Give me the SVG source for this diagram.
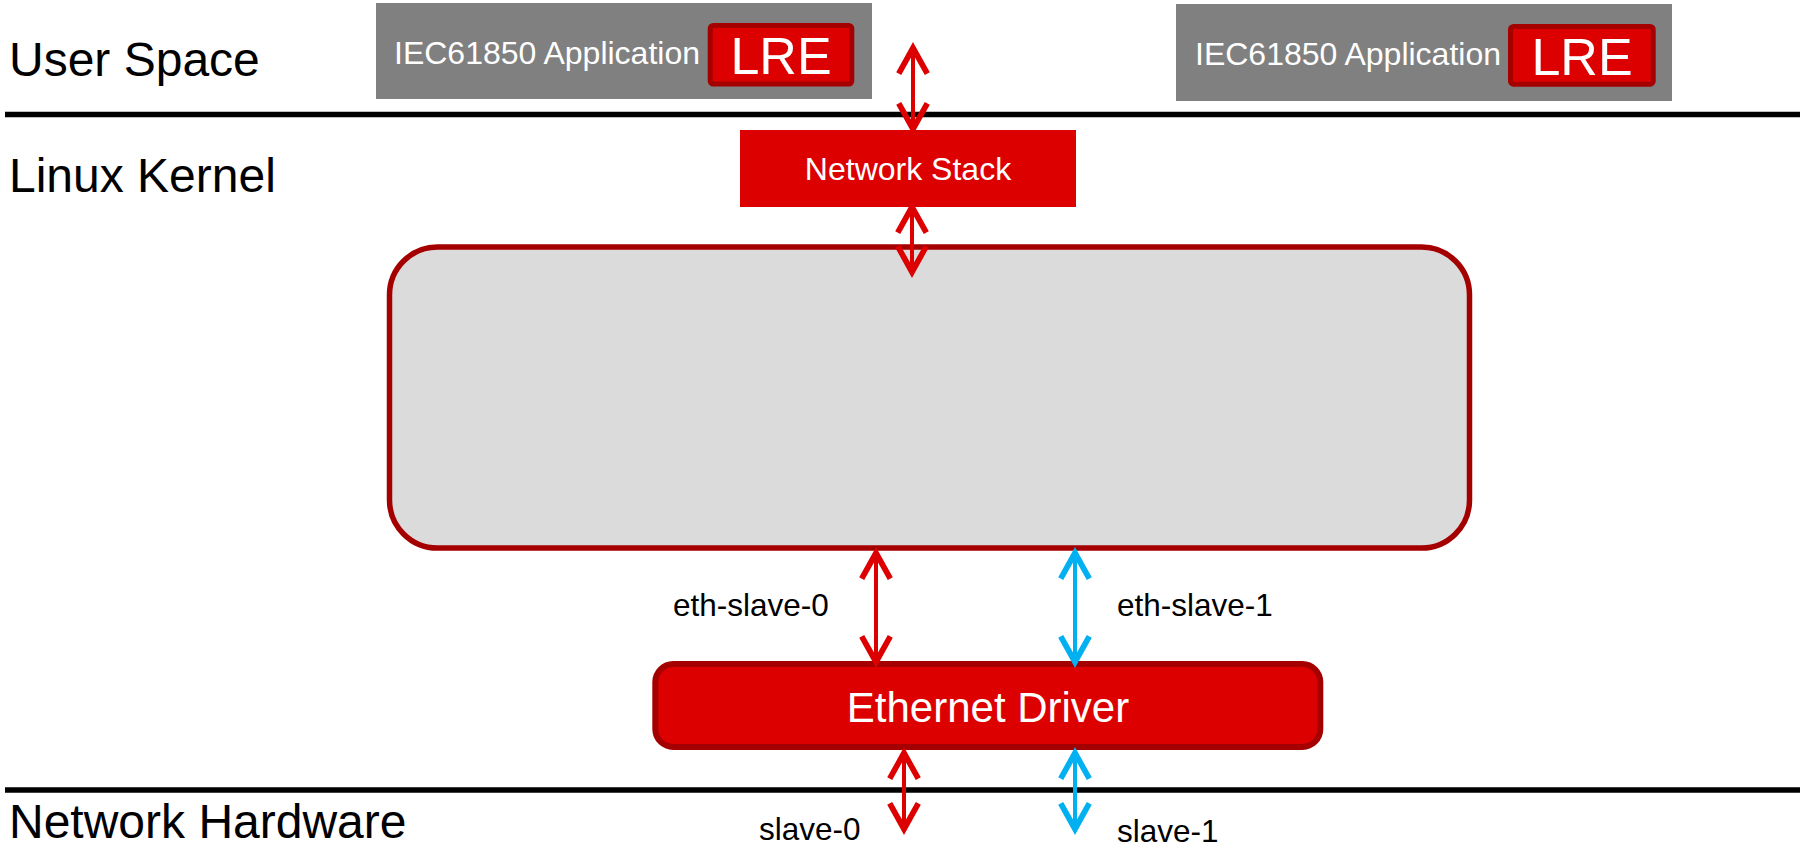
<svg xmlns="http://www.w3.org/2000/svg" width="1805" height="849" viewBox="0 0 1805 849">
  <style>
    text { font-family: "Liberation Sans", Arial, sans-serif; }
    .layer { font-size: 48px; fill: #000; }
    .app { fill: #808080; }
    .app-text { font-size: 32px; fill: #fff; }
    .lre { fill: #DD0000; stroke: #A50000; stroke-width: 5; }
    .lre-text { font-size: 52px; fill: #fff; text-anchor: middle; }
    .divider { stroke: #000; stroke-width: 5.5; }
    .label { font-size: 31.5px; fill: #000; }
    .red { stroke: #DD0000; stroke-width: 4; fill: none; }
    .blue { stroke: #00B0F0; stroke-width: 4; fill: none; }
  </style>
  <defs>
    <marker id="headRed" markerUnits="userSpaceOnUse" markerWidth="40" markerHeight="40" viewBox="-22 -14 26 28" refX="0" refY="0" orient="auto-start-reverse">
      <path d="M -18 -10 L 0 0 L -18 10" fill="none" stroke="#DD0000" stroke-width="4"/>
    </marker>
    <marker id="headBlue" markerUnits="userSpaceOnUse" markerWidth="40" markerHeight="40" viewBox="-22 -14 26 28" refX="0" refY="0" orient="auto-start-reverse">
      <path d="M -18 -10 L 0 0 L -18 10" fill="none" stroke="#00B0F0" stroke-width="4"/>
    </marker>
  </defs>

  <rect width="1805" height="849" fill="#fff"/>

  <!-- layer dividers and captions -->
  <g id="layers">
    <line class="divider" x1="5" y1="114.5" x2="1800" y2="114.5"/>
    <line class="divider" x1="5" y1="790" x2="1800" y2="790"/>
    <text class="layer" x="9" y="76" font-size="50">User Space</text>
    <text class="layer" x="9" y="192">Linux Kernel</text>
    <text class="layer" x="9" y="838">Network Hardware</text>
  </g>

  <g id="app-left">
    <rect class="app" x="376" y="3" width="496" height="96"/>
    <text class="app-text" x="394" y="64">IEC61850 Application</text>
    <rect class="lre" x="710.2" y="25.5" width="141.6" height="58.5" rx="3"/>
    <text class="lre-text" x="781" y="74">LRE</text>
  </g>

  <g id="app-right">
    <rect class="app" x="1176" y="4" width="496" height="97"/>
    <text class="app-text" x="1195" y="65">IEC61850 Application</text>
    <rect class="lre" x="1510.5" y="26.5" width="142.7" height="57.7" rx="3"/>
    <text class="lre-text" x="1582" y="75">LRE</text>
  </g>

  <g id="network-stack">
    <rect x="740" y="130" width="336" height="77" fill="#DD0000"/>
    <text x="908" y="180" font-size="32" fill="#fff" text-anchor="middle">Network Stack</text>
  </g>

  <g id="kernel-block">
    <rect x="389.5" y="247" width="1080" height="301" rx="48" fill="#DBDBDB" stroke="#A50000" stroke-width="5.5"/>
  </g>

  <g id="ethernet-driver">
    <rect x="655.3" y="664" width="665" height="83" rx="18" fill="#DD0000" stroke="#A50000" stroke-width="6"/>
    <text x="988" y="722" font-size="42" fill="#fff" text-anchor="middle">Ethernet Driver</text>
  </g>

  <g id="labels">
    <text class="label" x="673" y="616">eth-slave-0</text>
    <text class="label" x="1117" y="616">eth-slave-1</text>
    <text class="label" x="759" y="840">slave-0</text>
    <text class="label" x="1117" y="842">slave-1</text>
  </g>

  <!-- bidirectional links -->
  <g id="connectors">
    <line class="red" x1="913" y1="48" x2="913" y2="129" marker-start="url(#headRed)" marker-end="url(#headRed)"/>
    <line class="red" x1="912" y1="207" x2="912" y2="272" marker-start="url(#headRed)" marker-end="url(#headRed)"/>
    <line class="red" x1="876" y1="553" x2="876" y2="662" marker-start="url(#headRed)" marker-end="url(#headRed)"/>
    <line class="blue" x1="1075" y1="553" x2="1075" y2="662" marker-start="url(#headBlue)" marker-end="url(#headBlue)"/>
    <line class="red" x1="904" y1="753" x2="904" y2="829" marker-start="url(#headRed)" marker-end="url(#headRed)"/>
    <line class="blue" x1="1075" y1="753" x2="1075" y2="829" marker-start="url(#headBlue)" marker-end="url(#headBlue)"/>
  </g>
</svg>
